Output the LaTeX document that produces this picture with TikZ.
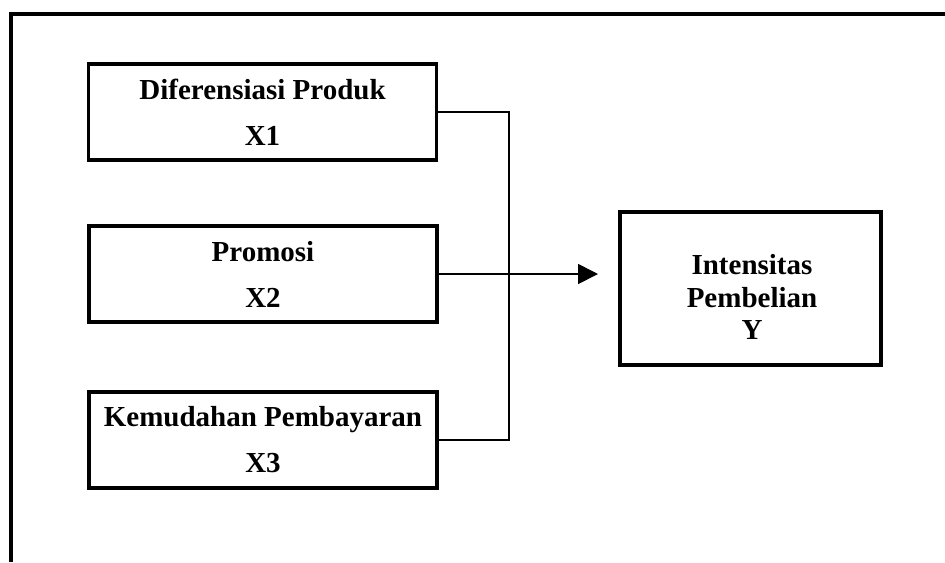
\documentclass[tikz,border=0pt]{standalone}
\usepackage{fontspec}
\setmainfont{Liberation Serif}
\usetikzlibrary{arrows.meta}
\tikzset{
  varbox/.style={draw=black, line width=2.4pt, minimum width=261pt, minimum height=72pt,
    inner sep=0pt, align=center, font=\fontsize{21.75pt}{34.5pt}\selectfont\bfseries},
  conn/.style={draw=black, line width=1.3pt},
  frameline/.style={draw=black, line width=2.3pt}
}
\begin{document}
\begin{tikzpicture}[x=0.75pt, y=-0.75pt]
\useasboundingbox (0,0) rectangle (945,562);
% outer frame (top and left edges only)
\coordinate (fa) at (11,562);
\coordinate (fb) at (11,14);
\coordinate (fc) at (945,14);
\draw[frameline] (fa) -- (fb) -- (fc);
% variable boxes
\node[varbox] (b1) at (262.5,112) {Diferensiasi Produk\\X1};
\node[varbox] (b2) at (263,274) {Promosi\\X2};
\node[varbox] (b3) at (263,440) {Kemudahan Pembayaran\\X3};
% dependent box
\node[varbox, minimum width=195.75pt, minimum height=114.75pt] (y) at (750.5,288.5) {};
\node[align=center, inner sep=0pt, font=\fontsize{21.75pt}{24.5pt}\selectfont\bfseries] (ytext) at (752,297) {Intensitas\\Pembelian\\Y};
% connectors
\coordinate (j) at (509,274);
\coordinate (tip) at (598,274);
\draw[conn] (b1.east) -| (j) |- (b3.east);
\draw[conn, -{Triangle[length=15pt, width=15pt]}] (b2.east) -- (tip);
\end{tikzpicture}
\end{document}
